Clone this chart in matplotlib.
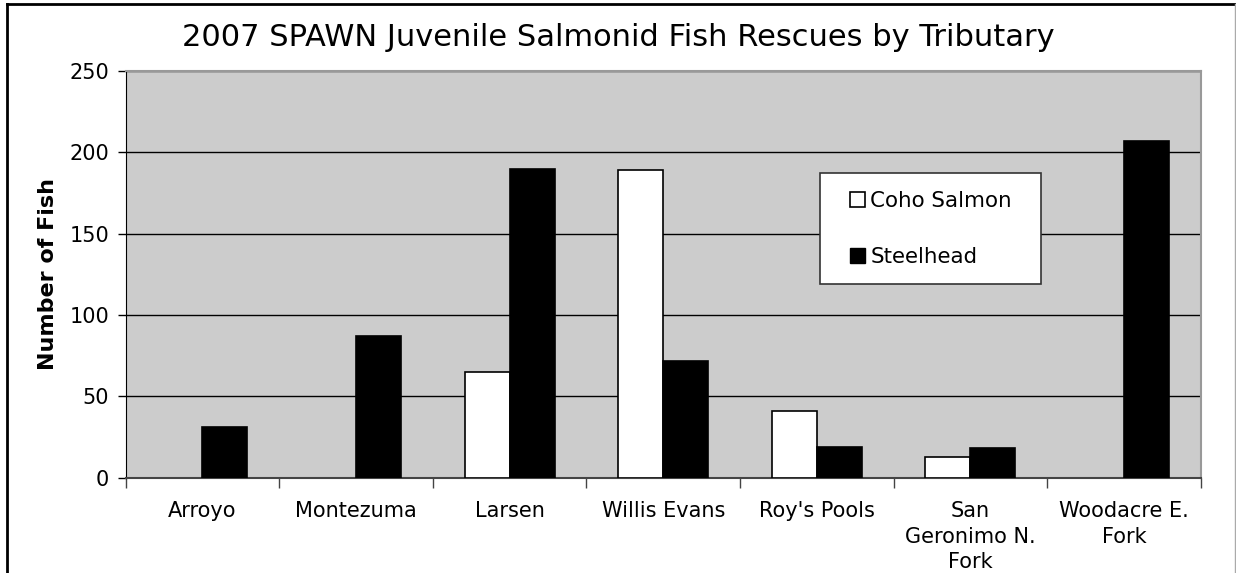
import matplotlib
matplotlib.use('Agg')
import matplotlib.pyplot as plt
from matplotlib.lines import Line2D
from matplotlib.patches import Patch, Rectangle
import numpy as np

# --- Data ---
tributaries = ["Arroyo", "Montezuma", "Larsen", "Willis Evans", "Roy's Pools",
               "San\nGeronimo N.\nFork", "Woodacre E.\nFork"]
coho = [0, 0, 65, 189, 41, 13, 0]
steelhead = [31, 87, 190, 72, 19, 18, 207]
y_ticks = [0, 50, 100, 150, 200, 250]
# -----------------------------------------

W, H = 1236, 573
fig = plt.figure(figsize=(W / 100, H / 100), dpi=100)
ax = fig.add_axes([125.7 / W, 1 - 477.7 / H, 1075 / W, 406.7 / H])

x = np.arange(len(tributaries))
bw = 0.293
# no outline for empty coho bars
coho_edges = ['black' if v > 0 else 'none' for v in coho]
ax.bar(x - bw / 2, coho, width=bw, color='white', edgecolor=coho_edges,
       linewidth=1.2, zorder=3)
ax.bar(x + bw / 2, steelhead, width=bw, color='black', edgecolor='black',
       linewidth=1.2, zorder=3)

ax.set_facecolor('#cccccc')
ax.set_xlim(-0.5, len(tributaries) - 0.5)
ax.set_ylim(0, 250)
ax.set_yticks(y_ticks)
ax.yaxis.grid(True, color='black', linewidth=1)
ax.set_axisbelow(True)

# ticks at category boundaries, labels in between
ax.set_xticks(np.arange(len(tributaries) + 1) - 0.5)
ax.set_xticklabels([])
ax.set_xticks(x, minor=True)
ax.set_xticklabels(tributaries, minor=True, fontsize=15, linespacing=1.33)
ax.tick_params(axis='x', which='minor', length=0, pad=17)
ax.tick_params(axis='x', which='major', length=7, width=1, color='#444444',
               direction='out')
ax.tick_params(axis='y', length=6, width=1, labelsize=15, pad=6)

for s in ['top', 'right']:
    ax.spines[s].set_color('#999999')
    ax.spines[s].set_linewidth(1.5)
ax.spines['left'].set_color('black')
ax.spines['bottom'].set_color('#444444')
ax.spines['bottom'].set_linewidth(1.5)

ax.set_ylabel('Number of Fish', fontsize=16, fontweight='bold', labelpad=8)

fig.text(0.5, 1 - 37 / H, '2007 SPAWN Juvenile Salmonid Fish Rescues by Tributary',
         ha='center', va='center', fontsize=22)

# legend box drawn separately so its padding matches the reference
ax.add_patch(Rectangle(((820 - 125.7) / 1075, (477.7 - 284) / 406.7),
                       221 / 1075, 111.3 / 406.7, transform=ax.transAxes,
                       facecolor='white', edgecolor='#333333', linewidth=1.2,
                       zorder=5))
handles = [Patch(facecolor='white', edgecolor='black', linewidth=1.2),
           Patch(facecolor='black', edgecolor='black')]
leg = ax.legend(handles, ['Coho Salmon', 'Steelhead'], loc='center left',
                bbox_to_anchor=((850 - 125.7) / 1075, (477.7 - 229.2) / 406.7),
                fontsize=15.4, frameon=False, borderpad=0,
                handlelength=0.7, handleheight=0.7, handletextpad=0.25,
                labelspacing=1.7, borderaxespad=0)
leg.set_zorder(6)

# outer chart border (cut off at the bottom)
fig.add_artist(Line2D([7 / W, 7 / W], [0, 1 - 4 / H], color='black', linewidth=2))
fig.add_artist(Line2D([7 / W, 1], [1 - 4 / H, 1 - 4 / H], color='black', linewidth=2))
fig.add_artist(Line2D([1234.5 / W, 1234.5 / W], [0, 1 - 4 / H], color='#aaaaaa', linewidth=1))

fig.savefig('out.png', dpi=100)
